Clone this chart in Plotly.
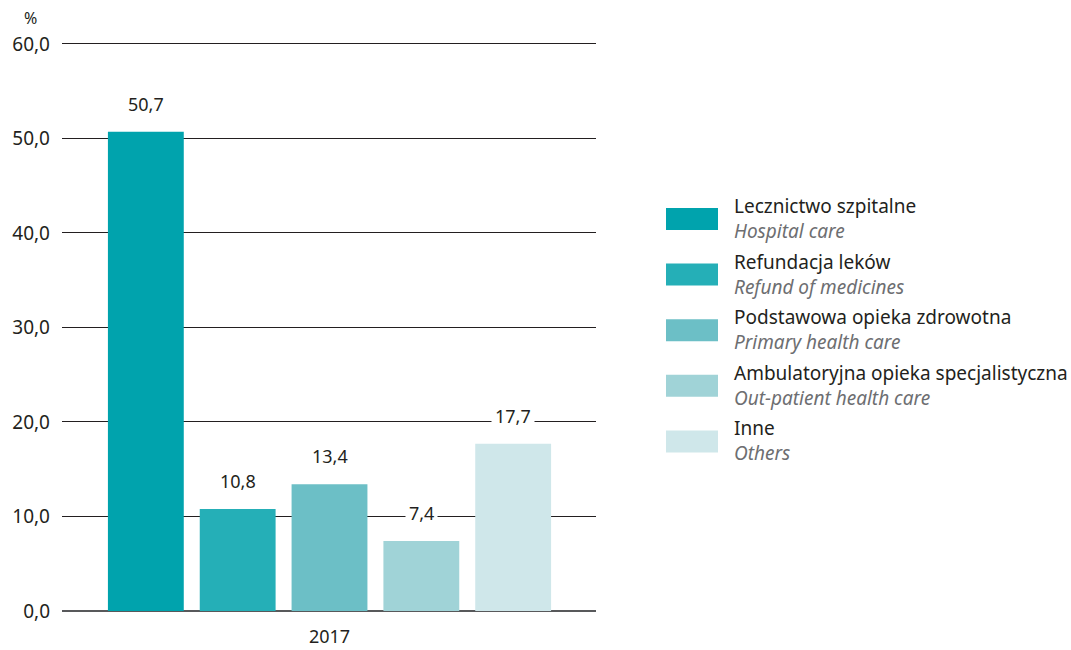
import plotly.graph_objects as go

# dane
kategorie_pl = ["Lecznictwo szpitalne", "Refundacja leków", "Podstawowa opieka zdrowotna",
                "Ambulatoryjna opieka specjalistyczna", "Inne"]
kategorie_en = ["Hospital care", "Refund of medicines", "Primary health care",
                "Out-patient health care", "Others"]
wartosci = [50.7, 10.8, 13.4, 7.4, 17.7]
kolory = ["#00a3ad", "#25afb7", "#6cbfc6", "#a0d3d7", "#cfe7ea"]
rok = "2017"
y_ticks = [0, 10, 20, 30, 40, 50, 60]

W, H = 1071, 650
M_L, M_R, M_T, M_B = 62, 475, 42, 39
FONT = "Noto Sans"
FS = 19


def px_x(px):
    return (px - M_L) / (W - M_L - M_R)


def px_y(py):
    return (H - M_B - py) / (H - M_T - M_B)


pozycje = list(range(len(wartosci)))

fig = go.Figure()
fig.add_trace(go.Bar(
    x=pozycje,
    y=wartosci,
    marker=dict(color=kolory, line=dict(width=0)),
    showlegend=False,
    hoverinfo="skip",
))

# etykiety wartosci nad slupkami
for i, v in enumerate(wartosci):
    fig.add_annotation(
        x=i, y=v, xref="x", yref="y",
        text=f"{v:.1f}".replace(".", ","),
        showarrow=False, yanchor="bottom", yshift=12,
        bgcolor="white", borderpad=3,
        font=dict(family=FONT, size=FS - 1, color="#231f20"),
    )

# legenda rysowana recznie (dwie linie w jednej adnotacji)
for i, (pl, en, kol) in enumerate(zip(kategorie_pl, kategorie_en, kolory)):
    top = 208 + i * 55.6
    fig.add_shape(type="rect", xref="paper", yref="paper",
                  x0=px_x(666), x1=px_x(718), y0=px_y(top), y1=px_y(top + 22),
                  fillcolor=kol, line=dict(width=0))
    fig.add_annotation(x=px_x(732), y=px_y(top + 10.5), xref="paper", yref="paper",
                       text=f"{pl}<br><i><span style='color:#6d6e71'>{en}</span></i>",
                       showarrow=False, xanchor="left", yanchor="middle", align="left",
                       font=dict(family=FONT, size=FS, color="#231f20"))

fig.add_annotation(x=px_x(30), y=px_y(18), xref="paper", yref="paper",
                   text="%", showarrow=False, xanchor="center", yanchor="middle",
                   font=dict(family=FONT, size=16, color="#231f20"))

fig.update_layout(
    width=W, height=H,
    margin=dict(l=M_L, r=M_R, t=M_T, b=M_B, autoexpand=False),
    plot_bgcolor="white", paper_bgcolor="white",
    separators=", ",
    bargap=0.174,
    xaxis=dict(
        range=[-0.913, len(wartosci) - 1 + 0.902],
        tickvals=[(len(wartosci) - 1) / 2], ticktext=[rok],
        showgrid=False, zeroline=False, showline=False, ticks="",
        ticklabelstandoff=13, automargin=False,
        tickfont=dict(family=FONT, size=FS - 1, color="#231f20"),
    ),
    yaxis=dict(
        range=[0, 60.2], tickvals=y_ticks, tickformat=".1f",
        showgrid=True, gridcolor="#231f20", gridwidth=1,
        zeroline=True, zerolinecolor="#58595b", zerolinewidth=2,
        showline=False, ticks="", ticklabelstandoff=11, automargin=False,
        tickfont=dict(family=FONT, size=FS, color="#231f20"),
    ),
    font=dict(family=FONT),
)

fig.write_html("out.html", config={"displayModeBar": False},
               post_script="document.body.style.margin='0';")
